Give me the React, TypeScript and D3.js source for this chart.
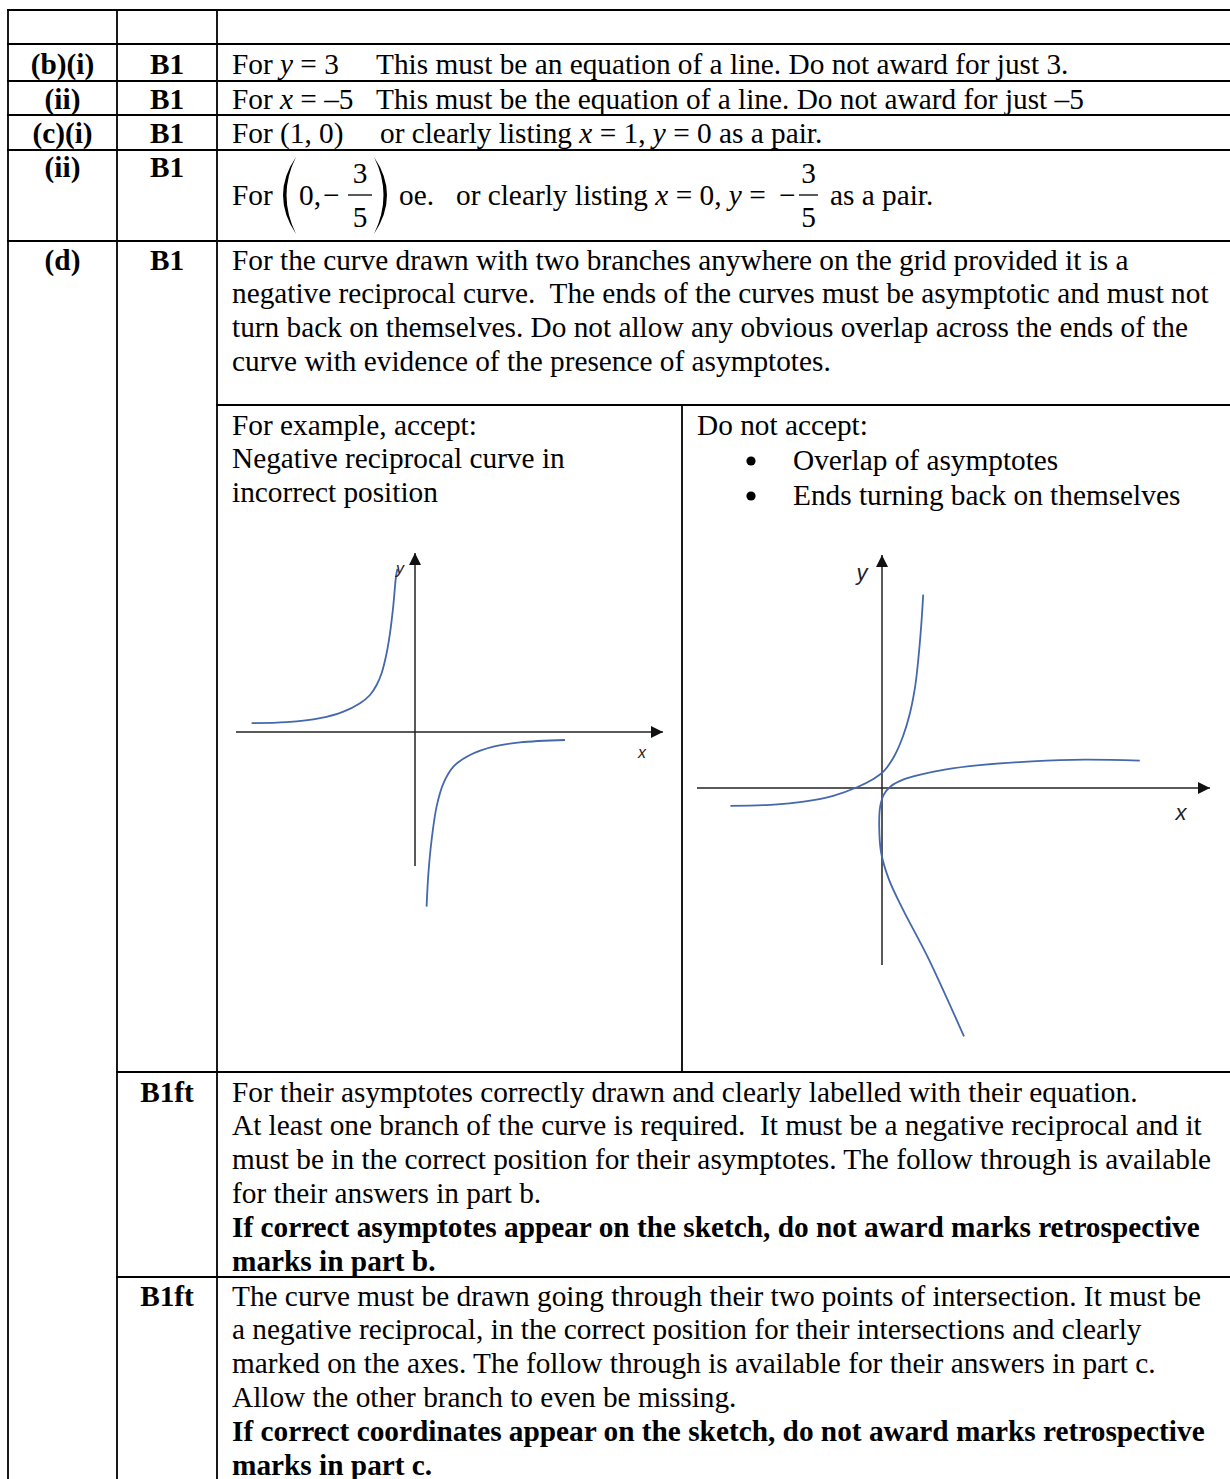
import React from "react";
import * as d3 from "d3";

// ---- text content of the mark scheme ----
const partLabels = ["(b)(i)", "(ii)", "(c)(i)", "(ii)", "(d)"];
const markLabels = ["B1", "B1", "B1", "B1", "B1", "B1ft", "B1ft"];

const dLines = [
  "For the curve drawn with two branches anywhere on the grid provided it is a",
  "negative reciprocal curve.  The ends of the curves must be asymptotic and must not",
  "turn back on themselves. Do not allow any obvious overlap across the ends of the",
  "curve with evidence of the presence of asymptotes.",
];
const acceptLines = ["For example, accept:", "Negative reciprocal curve in", "incorrect position"];
const rejectHead = "Do not accept:";
const rejectBullets = ["Overlap of asymptotes", "Ends turning back on themselves"];

const ft1Lines = [
  "For their asymptotes correctly drawn and clearly labelled with their equation.",
  "At least one branch of the curve is required.  It must be a negative reciprocal and it",
  "must be in the correct position for their asymptotes. The follow through is available",
  "for their answers in part b.",
];
const ft1Bold = ["If correct asymptotes appear on the sketch, do not award marks retrospective", "marks in part b."];
const ft2Lines = [
  "The curve must be drawn going through their two points of intersection. It must be",
  "a negative reciprocal, in the correct position for their intersections and clearly",
  "marked on the axes. The follow through is available for their answers in part c.",
  "Allow the other branch to even be missing.",
];
const ft2Bold = ["If correct coordinates appear on the sketch, do not award marks retrospective", "marks in part c."];

// ---- sketch data (units, origin at the axes crossing) ----
const leftAxisX = [-8.95, 12.4];
const leftAxisY = [-6.7, 8.95];
const leftUpperBranch = [
  [-8.17, 0.44], [-6.42, 0.49], [-4.75, 0.69], [-3.58, 1.02], [-2.75, 1.44], [-2.25, 1.85],
  [-1.92, 2.35], [-1.67, 2.94], [-1.42, 3.94], [-1.25, 4.94], [-1.09, 6.27], [-0.95, 7.77], [-0.88, 8.15],
];
const leftLowerBranch = [
  [0.58, -8.73], [0.67, -7.07], [0.83, -5.4], [1.08, -3.73], [1.42, -2.57], [1.92, -1.73],
  [2.75, -1.15], [3.92, -0.73], [5.25, -0.52], [7.5, -0.4],
];

const rightAxisX = [-9.25, 16.4];
const rightAxisY = [-8.85, 11.65];
const rightCurveA = [
  [-7.58, -0.89], [-5.57, -0.84], [-3.83, -0.67], [-2.44, -0.39], [-1.22, 0.05], [-0.43, 0.45],
  [0.09, 0.84], [0.61, 1.59], [1.05, 2.59], [1.4, 3.75], [1.66, 5.09], [1.83, 6.59], [1.97, 8.25], [2.06, 9.67],
];
const rightCurveB = [
  [12.89, 1.37], [10.11, 1.42], [7.49, 1.33], [4.88, 1.14], [3.14, 0.92], [1.92, 0.67], [1.05, 0.42],
  [0.44, 0.09], [0.09, -0.33], [-0.09, -0.92], [-0.14, -1.92], [-0.04, -3.25], [0.35, -4.58],
  [1.05, -6.08], [2.27, -8.42], [4.1, -12.42],
];

const SERIF = "'Liberation Serif', 'Times New Roman', serif";
const SANS = "'Liberation Sans', Arial, sans-serif";
const FS = 29.3;
const LINE = 33.8;
const CURVE = "#4468ad";

function Sketch(props: any) {
  const { ox, oy, axisX, axisY, curves, xLabel, yLabel, labelSize, id } = props;
  const unit = 20;
  const x = d3.scaleLinear().domain([0, 1]).range([ox, ox + unit]);
  const y = d3.scaleLinear().domain([0, 1]).range([oy, oy - unit]);
  const line = d3
    .line<number[]>()
    .x((d) => x(d[0]))
    .y((d) => y(d[1]))
    .curve(d3.curveCatmullRom.alpha(0.5));
  return (
    <g>
      <defs>
        <marker id={id} viewBox="0 0 12 12" refX="12" refY="6" markerUnits="userSpaceOnUse"
          markerWidth="13" markerHeight="12" orient="auto">
          <path d="M0,0 L12,6 L0,12 z" fill="#111" />
        </marker>
      </defs>
      <line x1={x(axisX[0])} x2={x(axisX[1])} y1={y(0)} y2={y(0)} stroke="#222" strokeWidth={1.5}
        markerEnd={`url(#${id})`} />
      <line x1={x(0)} x2={x(0)} y1={y(axisY[0])} y2={y(axisY[1])} stroke="#222" strokeWidth={1.5}
        markerEnd={`url(#${id})`} />
      {curves.map((c: number[][], i: number) => (
        <path key={i} d={line(c) || ""} fill="none" stroke={CURVE} strokeWidth={1.8} />
      ))}
      <text x={x(xLabel[0])} y={y(xLabel[1])} fontFamily={SANS} fontStyle="italic" fontSize={labelSize}
        textAnchor="middle" dominantBaseline="central" fill="#222">x</text>
      <text x={x(yLabel[0])} y={y(yLabel[1])} fontFamily={SANS} fontStyle="italic" fontSize={labelSize}
        textAnchor="middle" dominantBaseline="central" fill="#222">y</text>
    </g>
  );
}

function Lines(props: any) {
  const { x, y0, lines, bold } = props;
  return (
    <g>
      {lines.map((s: string, i: number) => (
        <text key={i} x={x} y={y0 + i * LINE} fontWeight={bold ? "bold" : "normal"} style={{ whiteSpace: "pre" }}>
          {s}
        </text>
      ))}
    </g>
  );
}

export default function App() {
  const L = 8, C1 = 117, C2 = 217, R = 1232, MID = 682;
  const hRules = [
    { y: 10, x1: L, x2: R },
    { y: 44, x1: L, x2: R },
    { y: 81, x1: L, x2: R },
    { y: 115, x1: L, x2: R },
    { y: 150, x1: L, x2: R },
    { y: 241, x1: L, x2: R },
    { y: 405, x1: C2, x2: R },
    { y: 1072, x1: C1, x2: R },
    { y: 1277, x1: C1, x2: R },
  ];
  const vRules = [
    { x: L, y1: 10, y2: 1479 },
    { x: C1, y1: 10, y2: 1479 },
    { x: C2, y1: 10, y2: 1479 },
    { x: MID, y1: 405, y2: 1072 },
  ];
  const partY = [73.5, 108.5, 143, 177, 269.5];
  const markY = [73.5, 108.5, 143, 177, 269.5, 1101.5, 1305.5];
  const it = { fontStyle: "italic" as const };

  return (
    <svg width={1230} height={1479} style={{ position: "absolute", left: 0, top: 0, background: "#fff" }}
      fontFamily={SERIF} fontSize={FS} fill="#000">
      <rect x={0} y={0} width={1230} height={1479} fill="#fff" />
      {hRules.map((r, i) => (
        <line key={"h" + i} x1={r.x1 - 1} x2={r.x2} y1={r.y} y2={r.y} stroke="#000" strokeWidth={1.8} />
      ))}
      {vRules.map((r, i) => (
        <line key={"v" + i} x1={r.x} x2={r.x} y1={r.y1 - 1} y2={r.y2} stroke="#000" strokeWidth={1.8} />
      ))}

      {partLabels.map((s, i) => (
        <text key={"p" + i} x={(L + C1) / 2} y={partY[i]} textAnchor="middle" fontWeight="bold">{s}</text>
      ))}
      {markLabels.map((s, i) => (
        <text key={"m" + i} x={(C1 + C2) / 2} y={markY[i]} textAnchor="middle" fontWeight="bold">{s}</text>
      ))}

      {/* (b)(i), (ii), (c)(i) */}
      <text x={232} y={73.5}>For <tspan {...it}>y</tspan> = 3</text>
      <text x={376} y={73.5}>This must be an equation of a line. Do not award for just 3.</text>
      <text x={232} y={108.5}>For <tspan {...it}>x</tspan> = –5</text>
      <text x={376} y={108.5}>This must be the equation of a line. Do not award for just –5</text>
      <text x={232} y={143}>For (1, 0)</text>
      <text x={380} y={143}>or clearly listing <tspan {...it}>x</tspan> = 1, <tspan {...it}>y</tspan> = 0 as a pair.</text>

      {/* (c)(ii) with fractions */}
      <text x={232} y={205}>For</text>
      <path d="M296,157 Q270,195 296,234 Q277,195 296,157 Z" fill="#000" />
      <text x={299} y={205}>0,</text>
      <text x={323} y={205}>−</text>
      <line x1={348} x2={372} y1={195} y2={195} stroke="#000" strokeWidth={1.3} />
      <text x={360} y={183} textAnchor="middle">3</text>
      <text x={360} y={227} textAnchor="middle">5</text>
      <path d="M374,157 Q400,195 374,234 Q393,195 374,157 Z" fill="#000" />
      <text x={399} y={205}>oe.</text>
      <text x={456} y={205}>or clearly listing <tspan {...it}>x</tspan> = 0, <tspan {...it}>y</tspan> =</text>
      <text x={779} y={205}>−</text>
      <line x1={799} x2={818} y1={195} y2={195} stroke="#000" strokeWidth={1.3} />
      <text x={808.5} y={183} textAnchor="middle">3</text>
      <text x={808.5} y={227} textAnchor="middle">5</text>
      <text x={830} y={205}>as a pair.</text>

      {/* (d) */}
      <Lines x={232} y0={269.5} lines={dLines} />
      <Lines x={232} y0={434.5} lines={acceptLines} />
      <text x={697} y={434.5}>{rejectHead}</text>
      {rejectBullets.map((s, i) => (
        <g key={"b" + i}>
          <circle cx={751} cy={461 + i * 35} r={4.6} fill="#000" />
          <text x={793} y={470 + i * 35}>{s}</text>
        </g>
      ))}

      <Sketch id="arrL" ox={415} oy={732} axisX={leftAxisX} axisY={leftAxisY}
        curves={[leftUpperBranch, leftLowerBranch]} xLabel={[11.35, -1.0]} yLabel={[-0.75, 8.2]} labelSize={16} />
      <Sketch id="arrR" ox={882} oy={788} axisX={rightAxisX} axisY={rightAxisY}
        curves={[rightCurveA, rightCurveB]} xLabel={[14.95, -1.2]} yLabel={[-1.0, 10.8]} labelSize={22} />

      <Lines x={232} y0={1101.5} lines={ft1Lines} />
      <Lines x={232} y0={1101.5 + 4 * LINE} lines={ft1Bold} bold />
      <Lines x={232} y0={1305.5} lines={ft2Lines} />
      <Lines x={232} y0={1305.5 + 4 * LINE} lines={ft2Bold} bold />
    </svg>
  );
}
